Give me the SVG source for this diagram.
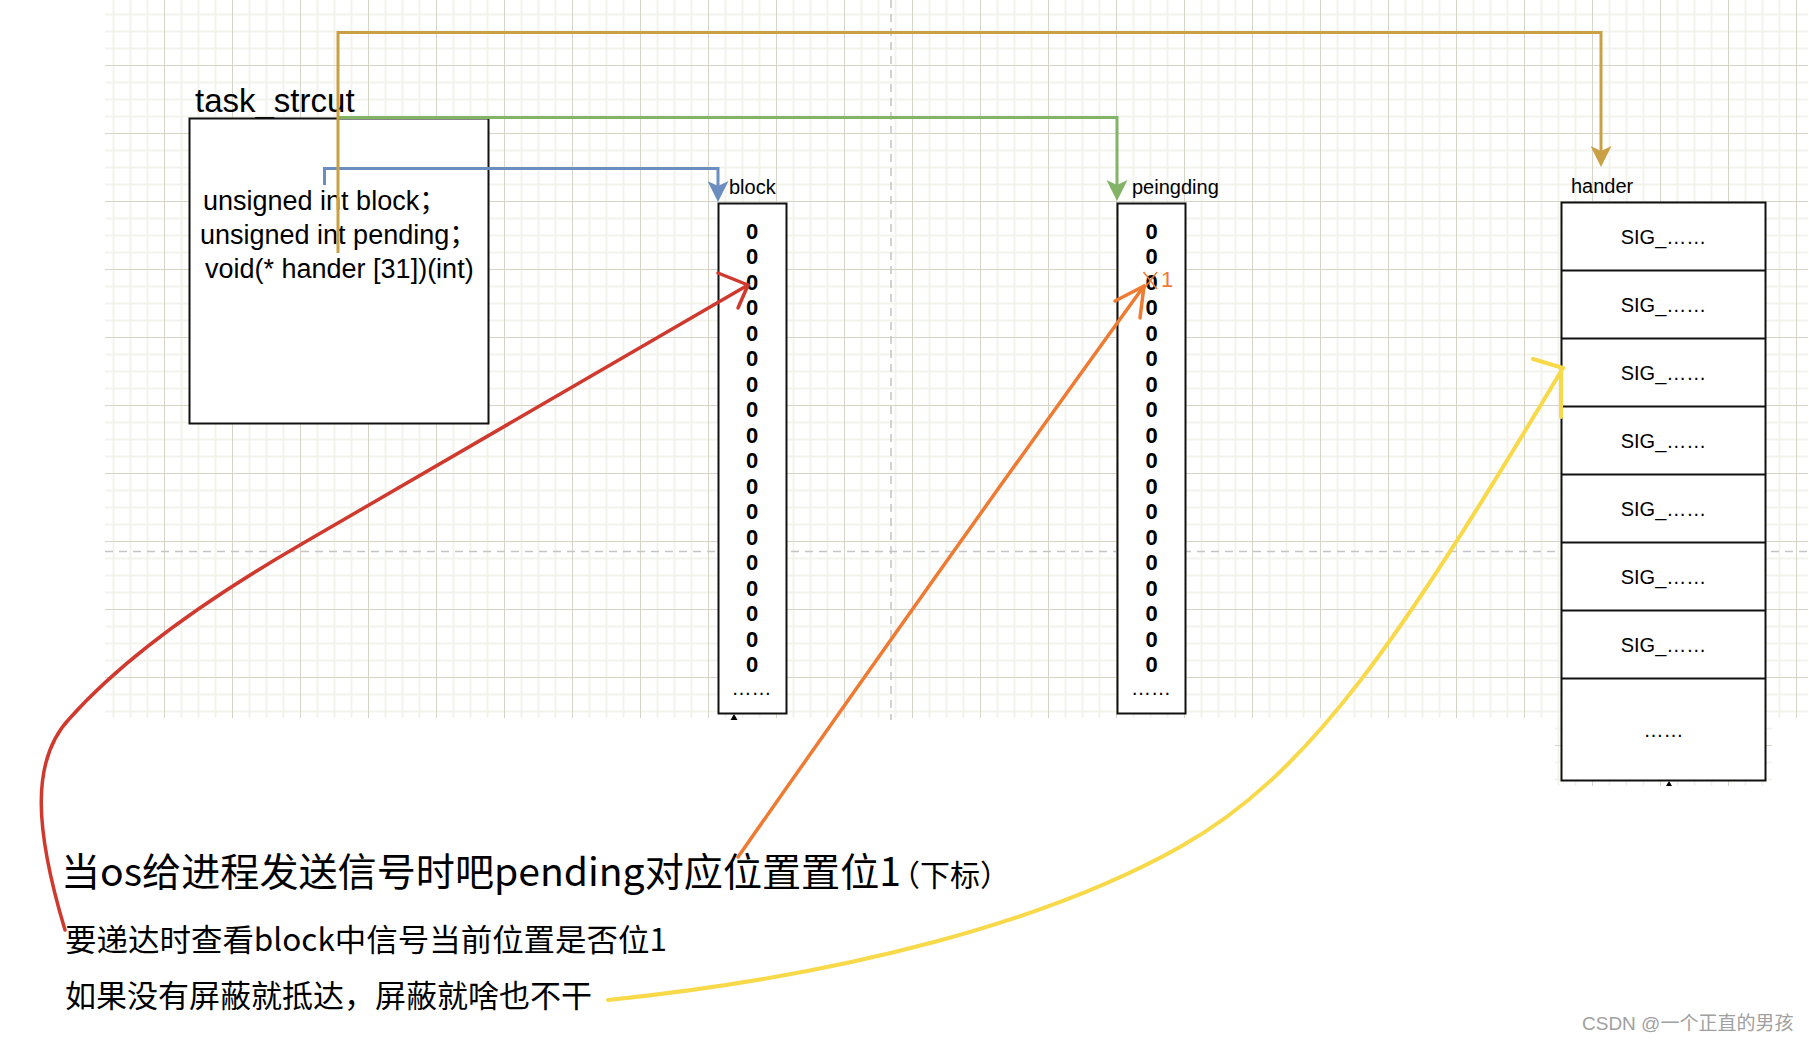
<svg xmlns="http://www.w3.org/2000/svg" width="1808" height="1042" viewBox="0 0 1808 1042">
<defs>
<pattern id="grid" patternUnits="userSpaceOnUse" x="96" y="-3" width="68" height="68">
<path d="M17.5 0V68M34.5 0V68M51.5 0V68M0 17.5H68M0 34.5H68M0 51.5H68" stroke="#f3f3ed" stroke-width="2" fill="none"/>
<path d="M0.5 0V68M0 0.5H68" stroke="#d6d4c6" stroke-width="1" fill="none"/>
</pattern>
<marker id="arBlue" viewBox="0 0 21 21" refX="5" refY="10.5" markerWidth="21" markerHeight="21" markerUnits="userSpaceOnUse" orient="auto"><path d="M0 0L21 10.5L0 21L5 10.5Z" fill="#6c8ebf"/></marker>
<marker id="arGreen" viewBox="0 0 21 21" refX="5" refY="10.5" markerWidth="21" markerHeight="21" markerUnits="userSpaceOnUse" orient="auto"><path d="M0 0L21 10.5L0 21L5 10.5Z" fill="#82b366"/></marker>
<marker id="arGold" viewBox="0 0 21 21" refX="5" refY="10.5" markerWidth="21" markerHeight="21" markerUnits="userSpaceOnUse" orient="auto"><path d="M0 0L21 10.5L0 21L5 10.5Z" fill="#c9a043"/></marker>
</defs>
<style>
.box{fill:#fff;stroke:#111;stroke-width:2}
.lbl{font-family:"Liberation Sans","Noto Sans CJK SC",sans-serif;font-size:20px;fill:#000}
.code{font-family:"Liberation Sans","Noto Sans CJK SC",sans-serif;font-size:27px;fill:#000}
.zero{font-family:"Liberation Sans",sans-serif;font-size:22px;font-weight:bold;fill:#000;text-anchor:middle}
.sig{font-family:"Liberation Sans",sans-serif;font-size:20px;fill:#000;text-anchor:middle}
.cn{font-family:"Noto Sans CJK SC",sans-serif;fill:#000}
.conn{fill:none;stroke-width:3}
.hand{fill:none;stroke-linecap:round;stroke-linejoin:round}
</style>
<rect width="1808" height="1042" fill="#fff"/>
<g id="background">
<rect x="105" y="0" width="1703" height="718" fill="url(#grid)"/>
<rect x="1555" y="718" width="217" height="68" fill="url(#grid)"/>
<path d="M891 0V720M105 551.5H1808" stroke="#c4c4c4" stroke-width="1.5" stroke-dasharray="8 6" fill="none"/>
</g>
<g id="task_struct">
<text x="195" y="112" font-family="Liberation Sans, sans-serif" font-size="33">task_strcut</text>
<rect class="box" x="189.5" y="118.5" width="299" height="305"/>
<text class="code" x="203" y="210">unsigned int block；</text>
<text class="code" x="200" y="244">unsigned int pending；</text>
<text class="code" x="205" y="278">void(* hander [31])(int)</text>
</g>
<g id="block">
<text class="lbl" x="729" y="194">block</text>
<rect class="box" x="718.5" y="203.5" width="68" height="510"/>
<text class="zero"><tspan x="752" y="238.5">0</tspan><tspan x="752" dy="25.5">0</tspan><tspan x="752" dy="25.5">0</tspan><tspan x="752" dy="25.5">0</tspan><tspan x="752" dy="25.5">0</tspan><tspan x="752" dy="25.5">0</tspan><tspan x="752" dy="25.5">0</tspan><tspan x="752" dy="25.5">0</tspan><tspan x="752" dy="25.5">0</tspan><tspan x="752" dy="25.5">0</tspan><tspan x="752" dy="25.5">0</tspan><tspan x="752" dy="25.5">0</tspan><tspan x="752" dy="25.5">0</tspan><tspan x="752" dy="25.5">0</tspan><tspan x="752" dy="25.5">0</tspan><tspan x="752" dy="25.5">0</tspan><tspan x="752" dy="25.5">0</tspan><tspan x="752" dy="25.5">0</tspan></text>
<text class="sig" x="751.5" y="695">……</text>
<path d="M734 714L737.5 720H730.5Z" fill="#000"/>
</g>
<g id="pending">
<text class="lbl" x="1132" y="194">peingding</text>
<rect class="box" x="1117.5" y="203.5" width="68" height="510"/>
<text class="zero"><tspan x="1151.5" y="238.5">0</tspan><tspan x="1151.5" dy="25.5">0</tspan><tspan x="1151.5" dy="25.5">0</tspan><tspan x="1151.5" dy="25.5">0</tspan><tspan x="1151.5" dy="25.5">0</tspan><tspan x="1151.5" dy="25.5">0</tspan><tspan x="1151.5" dy="25.5">0</tspan><tspan x="1151.5" dy="25.5">0</tspan><tspan x="1151.5" dy="25.5">0</tspan><tspan x="1151.5" dy="25.5">0</tspan><tspan x="1151.5" dy="25.5">0</tspan><tspan x="1151.5" dy="25.5">0</tspan><tspan x="1151.5" dy="25.5">0</tspan><tspan x="1151.5" dy="25.5">0</tspan><tspan x="1151.5" dy="25.5">0</tspan><tspan x="1151.5" dy="25.5">0</tspan><tspan x="1151.5" dy="25.5">0</tspan><tspan x="1151.5" dy="25.5">0</tspan></text>
<text class="sig" x="1151" y="695">……</text>
<path d="M1143.5 272L1157 289M1157 272L1144 289" stroke="#ee7a35" stroke-width="1.5" fill="none"/>
<text x="1161" y="287" font-family="Liberation Sans, sans-serif" font-size="22" fill="#ee7a35">1</text>
</g>
<g id="hander">
<text class="lbl" x="1571" y="193">hander</text>
<rect class="box" x="1561.5" y="202.5" width="204" height="578"/>
<path d="M1561.5 270.5H1765.5M1561.5 338.5H1765.5M1561.5 406.5H1765.5M1561.5 474.5H1765.5M1561.5 542.5H1765.5M1561.5 610.5H1765.5M1561.5 678.5H1765.5" stroke="#111" stroke-width="2" fill="none"/>
<text class="sig" x="1663.5" y="244">SIG_……</text>
<text class="sig" x="1663.5" y="312">SIG_……</text>
<text class="sig" x="1663.5" y="380">SIG_……</text>
<text class="sig" x="1663.5" y="448">SIG_……</text>
<text class="sig" x="1663.5" y="516">SIG_……</text>
<text class="sig" x="1663.5" y="584">SIG_……</text>
<text class="sig" x="1663.5" y="652">SIG_……</text>
<text class="sig" x="1663.5" y="737">……</text>
<path d="M1669 781L1672 786H1666Z" fill="#000"/>
</g>
<g id="notes">
<text class="cn" x="61" y="886" font-size="39" textLength="840" lengthAdjust="spacingAndGlyphs">当os给进程发送信号时吧pending对应位置置位1</text>
<text class="cn" x="890" y="886" font-size="30">（下标）</text>
<text class="cn" x="65" y="951" font-size="31" textLength="602" lengthAdjust="spacingAndGlyphs">要递达时查看block中信号当前位置是否位1</text>
<text class="cn" x="65" y="1007" font-size="31">如果没有屏蔽就抵达，屏蔽就啥也不干</text>
</g>
<g id="connectors">
<path class="conn" stroke="#6c8ebf" d="M324.5 185V168.5H718V186" marker-end="url(#arBlue)"/>
<path class="conn" stroke="#82b366" d="M338 117.5H1117V185" marker-end="url(#arGreen)"/>
<path class="conn" stroke="#c9a043" d="M338 253V32.5H1601V151" marker-end="url(#arGold)"/>
<path class="hand" stroke="#d0392d" stroke-width="3.5" d="M65 930C35 830 30 760 70 718C120 662 200 603 300 545L748 285"/>
<path class="hand" stroke="#d0392d" stroke-width="3.5" d="M718 273L748 285L738 308"/>
<path class="hand" stroke="#ef7b33" stroke-width="3.5" d="M738 857Q960 540 1144 286"/>
<path class="hand" stroke="#ef7b33" stroke-width="3.5" d="M1115 301L1144 286L1140 318"/>
<path class="hand" stroke="#f8d94a" stroke-width="4" d="M608 1000C850 975 1050 920 1180 847S1400 640 1563 368"/>
<path class="hand" stroke="#f8d94a" stroke-width="4" d="M1533 359L1563 368M1561 368V417"/>
</g>
<text x="1582" y="1030" font-family="Liberation Sans, Noto Sans CJK SC, sans-serif" font-size="19" fill="#a0a0a0">CSDN @一个正直的男孩</text>
</svg>
